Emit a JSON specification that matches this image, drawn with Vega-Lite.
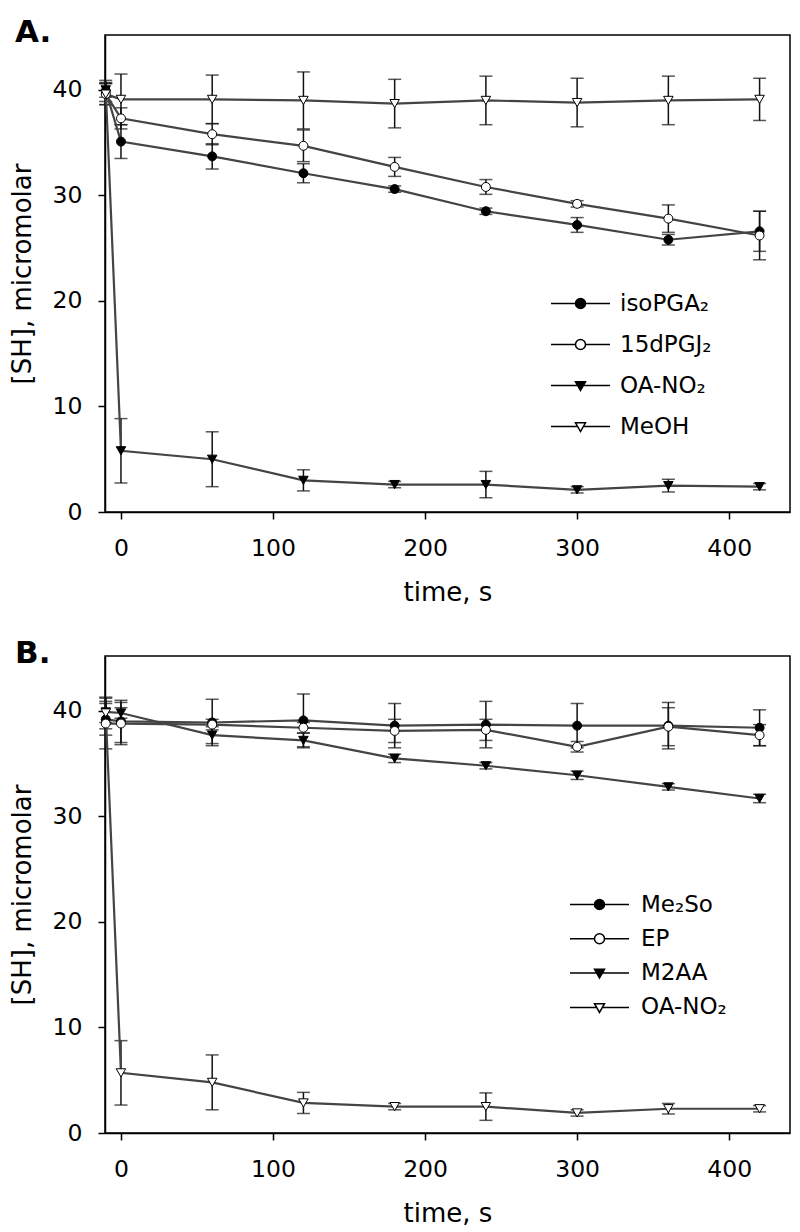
{
  "$schema": "https://vega.github.io/schema/vega-lite/v6.json",
  "padding": {"left": 8, "top": 16, "right": 5, "bottom": 2},
  "spacing": 30,
  "datasets": {
    "a": [
      {"s": "isoPGA₂", "t": -10, "y": 39.9, "lo": 38.9, "hi": 40.9},
      {"s": "isoPGA₂", "t": 0, "y": 35.1, "lo": 33.5, "hi": 36.7},
      {"s": "isoPGA₂", "t": 60, "y": 33.7, "lo": 32.5, "hi": 34.9},
      {"s": "isoPGA₂", "t": 120, "y": 32.1, "lo": 31.2, "hi": 33.0},
      {"s": "isoPGA₂", "t": 180, "y": 30.6, "lo": 30.3, "hi": 30.9},
      {"s": "isoPGA₂", "t": 240, "y": 28.5, "lo": 28.2, "hi": 28.8},
      {"s": "isoPGA₂", "t": 300, "y": 27.2, "lo": 26.5, "hi": 27.9},
      {"s": "isoPGA₂", "t": 360, "y": 25.8, "lo": 25.3, "hi": 26.3},
      {"s": "isoPGA₂", "t": 420, "y": 26.6, "lo": 24.7, "hi": 28.5},
      {"s": "15dPGJ₂", "t": -10, "y": 39.6, "lo": 38.6, "hi": 40.6},
      {"s": "15dPGJ₂", "t": 0, "y": 37.3, "lo": 36.3, "hi": 38.3},
      {"s": "15dPGJ₂", "t": 60, "y": 35.8, "lo": 34.8, "hi": 36.8},
      {"s": "15dPGJ₂", "t": 120, "y": 34.7, "lo": 33.2, "hi": 36.2},
      {"s": "15dPGJ₂", "t": 180, "y": 32.7, "lo": 31.8, "hi": 33.6},
      {"s": "15dPGJ₂", "t": 240, "y": 30.8, "lo": 30.1, "hi": 31.5},
      {"s": "15dPGJ₂", "t": 300, "y": 29.2, "lo": 28.9, "hi": 29.5},
      {"s": "15dPGJ₂", "t": 360, "y": 27.8, "lo": 26.5, "hi": 29.1},
      {"s": "15dPGJ₂", "t": 420, "y": 26.2, "lo": 23.9, "hi": 28.5},
      {"s": "OA-NO₂", "t": -10, "y": 40.0, "lo": 39.3, "hi": 40.7},
      {"s": "OA-NO₂", "t": 0, "y": 5.8, "lo": 2.75, "hi": 8.85},
      {"s": "OA-NO₂", "t": 60, "y": 5.0, "lo": 2.4, "hi": 7.6},
      {"s": "OA-NO₂", "t": 120, "y": 3.0, "lo": 2.0, "hi": 4.0},
      {"s": "OA-NO₂", "t": 180, "y": 2.6, "lo": 2.3, "hi": 2.9},
      {"s": "OA-NO₂", "t": 240, "y": 2.6, "lo": 1.35, "hi": 3.85},
      {"s": "OA-NO₂", "t": 300, "y": 2.1, "lo": 1.8, "hi": 2.4},
      {"s": "OA-NO₂", "t": 360, "y": 2.5, "lo": 1.9, "hi": 3.1},
      {"s": "OA-NO₂", "t": 420, "y": 2.4, "lo": 2.1, "hi": 2.7},
      {"s": "MeOH", "t": -10, "y": 39.6, "lo": 38.6, "hi": 40.6},
      {"s": "MeOH", "t": 0, "y": 39.1, "lo": 36.7, "hi": 41.5},
      {"s": "MeOH", "t": 60, "y": 39.1, "lo": 36.8, "hi": 41.4},
      {"s": "MeOH", "t": 120, "y": 39.0, "lo": 36.3, "hi": 41.7},
      {"s": "MeOH", "t": 180, "y": 38.7, "lo": 36.4, "hi": 41.0},
      {"s": "MeOH", "t": 240, "y": 39.0, "lo": 36.7, "hi": 41.3},
      {"s": "MeOH", "t": 300, "y": 38.8, "lo": 36.5, "hi": 41.1},
      {"s": "MeOH", "t": 360, "y": 39.0, "lo": 36.7, "hi": 41.3},
      {"s": "MeOH", "t": 420, "y": 39.1, "lo": 37.1, "hi": 41.1}
    ],
    "b": [
      {"s": "Me₂So", "t": -10, "y": 39.2, "lo": 37.7, "hi": 40.7},
      {"s": "Me₂So", "t": 0, "y": 39.0, "lo": 37.0, "hi": 41.0},
      {"s": "Me₂So", "t": 60, "y": 38.9, "lo": 36.7, "hi": 41.1},
      {"s": "Me₂So", "t": 120, "y": 39.1, "lo": 36.6, "hi": 41.6},
      {"s": "Me₂So", "t": 180, "y": 38.6, "lo": 36.5, "hi": 40.7},
      {"s": "Me₂So", "t": 240, "y": 38.7, "lo": 36.5, "hi": 40.9},
      {"s": "Me₂So", "t": 300, "y": 38.6, "lo": 36.5, "hi": 40.7},
      {"s": "Me₂So", "t": 360, "y": 38.6, "lo": 36.4, "hi": 40.8},
      {"s": "Me₂So", "t": 420, "y": 38.4, "lo": 36.7, "hi": 40.1},
      {"s": "EP", "t": -10, "y": 38.8, "lo": 36.4, "hi": 41.2},
      {"s": "EP", "t": 0, "y": 38.8, "lo": 36.8, "hi": 40.8},
      {"s": "EP", "t": 60, "y": 38.7, "lo": 38.2, "hi": 39.2},
      {"s": "EP", "t": 120, "y": 38.4, "lo": 37.9, "hi": 38.9},
      {"s": "EP", "t": 180, "y": 38.1, "lo": 37.0, "hi": 39.2},
      {"s": "EP", "t": 240, "y": 38.2, "lo": 37.2, "hi": 39.2},
      {"s": "EP", "t": 300, "y": 36.6, "lo": 36.1, "hi": 37.1},
      {"s": "EP", "t": 360, "y": 38.5, "lo": 36.7, "hi": 40.3},
      {"s": "EP", "t": 420, "y": 37.7, "lo": 36.7, "hi": 38.7},
      {"s": "M2AA", "t": -10, "y": 39.9, "lo": 38.9, "hi": 40.9},
      {"s": "M2AA", "t": 0, "y": 39.8, "lo": 39.3, "hi": 40.3},
      {"s": "M2AA", "t": 60, "y": 37.7, "lo": 36.9, "hi": 38.5},
      {"s": "M2AA", "t": 120, "y": 37.2, "lo": 36.5, "hi": 37.9},
      {"s": "M2AA", "t": 180, "y": 35.5, "lo": 35.1, "hi": 35.9},
      {"s": "M2AA", "t": 240, "y": 34.8, "lo": 34.5, "hi": 35.1},
      {"s": "M2AA", "t": 300, "y": 33.9, "lo": 33.5, "hi": 34.3},
      {"s": "M2AA", "t": 360, "y": 32.8, "lo": 32.5, "hi": 33.1},
      {"s": "M2AA", "t": 420, "y": 31.7, "lo": 31.3, "hi": 32.1},
      {"s": "OA-NO₂", "t": -10, "y": 39.8, "lo": 38.3, "hi": 41.3},
      {"s": "OA-NO₂", "t": 0, "y": 5.7, "lo": 2.65, "hi": 8.75},
      {"s": "OA-NO₂", "t": 60, "y": 4.8, "lo": 2.2, "hi": 7.4},
      {"s": "OA-NO₂", "t": 120, "y": 2.85, "lo": 1.85, "hi": 3.85},
      {"s": "OA-NO₂", "t": 180, "y": 2.5, "lo": 2.2, "hi": 2.8},
      {"s": "OA-NO₂", "t": 240, "y": 2.5, "lo": 1.2, "hi": 3.8},
      {"s": "OA-NO₂", "t": 300, "y": 1.9, "lo": 1.6, "hi": 2.2},
      {"s": "OA-NO₂", "t": 360, "y": 2.3, "lo": 1.8, "hi": 2.8},
      {"s": "OA-NO₂", "t": 420, "y": 2.3, "lo": 2.0, "hi": 2.6}
    ]
  },
  "resolve": {"scale": {"x": "independent", "y": "independent", "shape": "independent", "fill": "independent"}},
  "vconcat": [
    {
      "width": 685,
      "height": 477,
      "title": {"text": "A.", "anchor": "start", "frame": "group", "dx": -90, "offset": -38, "baseline": "alphabetic", "fontSize": 31, "fontWeight": "bold", "font": "DejaVu Sans", "color": "black"},
      "data": {"name": "a"},
      "encoding": {
        "x": {"field": "t", "type": "quantitative", "scale": {"domain": [-10.5, 440], "nice": false, "zero": false}, "axis": {"values": [0, 100, 200, 300, 400], "title": "time, s"}}
      },
      "layer": [
        {
          "mark": {"type": "errorbar", "color": "#111", "thickness": 1.5, "ticks": {"size": 13, "thickness": 1.5}},
          "encoding": {
            "y": {"field": "lo", "type": "quantitative", "scale": {"domain": [0, 45.2], "nice": false}, "axis": {"values": [0, 10, 20, 30, 40], "title": "[SH], micromolar"}},
            "y2": {"field": "hi"}
          }
        },
        {
          "mark": {"type": "line", "color": "#444", "strokeWidth": 2.2},
          "encoding": {
            "y": {"field": "y", "type": "quantitative", "axis": {"values": [0, 10, 20, 30, 40], "title": "[SH], micromolar"}},
            "detail": {"field": "s"}
          }
        },
        {
          "transform": [{"filter": {"field": "s", "equal": "isoPGA₂"}}],
          "mark": {"type": "point", "shape": "circle", "size": 80, "fill": "black", "stroke": "black", "strokeWidth": 1, "opacity": 1},
          "encoding": {"y": {"field": "y", "type": "quantitative", "axis": {"values": [0, 10, 20, 30, 40], "title": "[SH], micromolar"}}}
        },
        {
          "transform": [{"filter": {"field": "s", "equal": "15dPGJ₂"}}],
          "mark": {"type": "point", "shape": "circle", "size": 80, "fill": "white", "stroke": "black", "strokeWidth": 1, "opacity": 1},
          "encoding": {"y": {"field": "y", "type": "quantitative", "axis": {"values": [0, 10, 20, 30, 40], "title": "[SH], micromolar"}}}
        },
        {
          "transform": [{"filter": {"field": "s", "equal": "OA-NO₂"}}],
          "mark": {"type": "point", "shape": "triangle-down", "size": 90, "fill": "black", "stroke": "black", "strokeWidth": 1, "opacity": 1},
          "encoding": {"y": {"field": "y", "type": "quantitative", "axis": {"values": [0, 10, 20, 30, 40], "title": "[SH], micromolar"}}}
        },
        {
          "transform": [{"filter": {"field": "s", "equal": "MeOH"}}],
          "mark": {"type": "point", "shape": "triangle-down", "size": 90, "fill": "white", "stroke": "black", "strokeWidth": 1, "opacity": 1},
          "encoding": {"y": {"field": "y", "type": "quantitative", "axis": {"values": [0, 10, 20, 30, 40], "title": "[SH], micromolar"}}}
        },
        {
          "transform": [{"filter": "datum.t < -100"}],
          "mark": {"type": "point", "size": 100, "stroke": "black", "strokeWidth": 1.5, "opacity": 1},
          "encoding": {
            "y": {"field": "y", "type": "quantitative", "axis": {"values": [0, 10, 20, 30, 40], "title": "[SH], micromolar"}},
            "shape": {"field": "s", "scale": {"domain": ["isoPGA₂", "15dPGJ₂", "OA-NO₂", "MeOH"], "range": ["M-5.9,0H-1M1,0H5.9M1,0A1,1,0,1,1,-1,0A1,1,0,1,1,1,0Z", "M-5.9,0H-1M1,0H5.9M1,0A1,1,0,1,1,-1,0A1,1,0,1,1,1,0Z", "M-5.9,0H-0.57M0.57,0H5.9M-1,-0.75L1,-0.75L0,1Z", "M-5.9,0H-0.57M0.57,0H5.9M-1,-0.75L1,-0.75L0,1Z"]},
              "legend": {"title": null, "orient": "none", "legendX": 464, "legendY": 257, "padding": 0, "rowPadding": 17, "labelOffset": 28, "symbolSize": 100, "symbolStrokeWidth": 1.5, "symbolStrokeColor": "black", "symbolOpacity": 1, "labelFontSize": 23, "labelFont": "DejaVu Sans", "labelColor": "black",
                "encode": {"symbols": {"update": {"stroke": {"value": "black"}, "strokeWidth": {"value": 1.5}, "opacity": {"value": 1}}}}}},
            "fill": {"field": "s", "scale": {"domain": ["isoPGA₂", "15dPGJ₂", "OA-NO₂", "MeOH"], "range": ["black", "white", "black", "white"]},
              "legend": {"title": null, "orient": "none", "legendX": 464, "legendY": 257, "padding": 0, "rowPadding": 17, "labelOffset": 28, "symbolSize": 100, "symbolStrokeWidth": 1.5, "symbolStrokeColor": "black", "symbolOpacity": 1, "labelFontSize": 23, "labelFont": "DejaVu Sans", "labelColor": "black",
                "encode": {"symbols": {"update": {"stroke": {"value": "black"}, "strokeWidth": {"value": 1.5}, "opacity": {"value": 1}}}}}}
          }
        }
      ]
    },
    {
      "width": 685,
      "height": 477,
      "title": {"text": "B.", "anchor": "start", "frame": "group", "dx": -90, "offset": -38, "baseline": "alphabetic", "fontSize": 31, "fontWeight": "bold", "font": "DejaVu Sans", "color": "black"},
      "data": {"name": "b"},
      "encoding": {
        "x": {"field": "t", "type": "quantitative", "scale": {"domain": [-10.5, 440], "nice": false, "zero": false}, "axis": {"values": [0, 100, 200, 300, 400], "title": "time, s"}}
      },
      "layer": [
        {
          "mark": {"type": "errorbar", "color": "#111", "thickness": 1.5, "ticks": {"size": 13, "thickness": 1.5}},
          "encoding": {
            "y": {"field": "lo", "type": "quantitative", "scale": {"domain": [0, 45.2], "nice": false}, "axis": {"values": [0, 10, 20, 30, 40], "title": "[SH], micromolar"}},
            "y2": {"field": "hi"}
          }
        },
        {
          "mark": {"type": "line", "color": "#444", "strokeWidth": 2.2},
          "encoding": {
            "y": {"field": "y", "type": "quantitative", "axis": {"values": [0, 10, 20, 30, 40], "title": "[SH], micromolar"}},
            "detail": {"field": "s"}
          }
        },
        {
          "transform": [{"filter": {"field": "s", "equal": "Me₂So"}}],
          "mark": {"type": "point", "shape": "circle", "size": 80, "fill": "black", "stroke": "black", "strokeWidth": 1, "opacity": 1},
          "encoding": {"y": {"field": "y", "type": "quantitative", "axis": {"values": [0, 10, 20, 30, 40], "title": "[SH], micromolar"}}}
        },
        {
          "transform": [{"filter": {"field": "s", "equal": "EP"}}],
          "mark": {"type": "point", "shape": "circle", "size": 80, "fill": "white", "stroke": "black", "strokeWidth": 1, "opacity": 1},
          "encoding": {"y": {"field": "y", "type": "quantitative", "axis": {"values": [0, 10, 20, 30, 40], "title": "[SH], micromolar"}}}
        },
        {
          "transform": [{"filter": {"field": "s", "equal": "M2AA"}}],
          "mark": {"type": "point", "shape": "triangle-down", "size": 90, "fill": "black", "stroke": "black", "strokeWidth": 1, "opacity": 1},
          "encoding": {"y": {"field": "y", "type": "quantitative", "axis": {"values": [0, 10, 20, 30, 40], "title": "[SH], micromolar"}}}
        },
        {
          "transform": [{"filter": {"field": "s", "equal": "OA-NO₂"}}],
          "mark": {"type": "point", "shape": "triangle-down", "size": 90, "fill": "white", "stroke": "black", "strokeWidth": 1, "opacity": 1},
          "encoding": {"y": {"field": "y", "type": "quantitative", "axis": {"values": [0, 10, 20, 30, 40], "title": "[SH], micromolar"}}}
        },
        {
          "transform": [{"filter": "datum.t < -100"}],
          "mark": {"type": "point", "size": 100, "stroke": "black", "strokeWidth": 1.5, "opacity": 1},
          "encoding": {
            "y": {"field": "y", "type": "quantitative", "axis": {"values": [0, 10, 20, 30, 40], "title": "[SH], micromolar"}},
            "shape": {"field": "s", "scale": {"domain": ["Me₂So", "EP", "M2AA", "OA-NO₂"], "range": ["M-5.9,0H-1M1,0H5.9M1,0A1,1,0,1,1,-1,0A1,1,0,1,1,1,0Z", "M-5.9,0H-1M1,0H5.9M1,0A1,1,0,1,1,-1,0A1,1,0,1,1,1,0Z", "M-5.9,0H-0.57M0.57,0H5.9M-1,-0.75L1,-0.75L0,1Z", "M-5.9,0H-0.57M0.57,0H5.9M-1,-0.75L1,-0.75L0,1Z"]},
              "legend": {"title": null, "orient": "none", "legendX": 483, "legendY": 237, "padding": 0, "rowPadding": 10.3, "labelOffset": 30, "symbolSize": 100, "symbolStrokeWidth": 1.5, "symbolStrokeColor": "black", "symbolOpacity": 1, "labelFontSize": 23, "labelFont": "DejaVu Sans", "labelColor": "black",
                "encode": {"symbols": {"update": {"stroke": {"value": "black"}, "strokeWidth": {"value": 1.5}, "opacity": {"value": 1}}}}}},
            "fill": {"field": "s", "scale": {"domain": ["Me₂So", "EP", "M2AA", "OA-NO₂"], "range": ["black", "white", "black", "white"]},
              "legend": {"title": null, "orient": "none", "legendX": 483, "legendY": 237, "padding": 0, "rowPadding": 10.3, "labelOffset": 30, "symbolSize": 100, "symbolStrokeWidth": 1.5, "symbolStrokeColor": "black", "symbolOpacity": 1, "labelFontSize": 23, "labelFont": "DejaVu Sans", "labelColor": "black",
                "encode": {"symbols": {"update": {"stroke": {"value": "black"}, "strokeWidth": {"value": 1.5}, "opacity": {"value": 1}}}}}}
          }
        }
      ]
    }
  ],
  "config": {
    "font": "DejaVu Sans",
    "view": {"stroke": "black", "strokeWidth": 1.5},
    "axis": {"grid": false, "labelFont": "DejaVu Sans", "titleFont": "DejaVu Sans", "labelFontSize": 23.5, "titleFontSize": 26, "titleFontWeight": "normal", "labelColor": "black", "titleColor": "black", "domainColor": "black", "tickColor": "black", "domainWidth": 1.5, "tickWidth": 1.5, "tickSize": 7},
    "axisX": {"labelPadding": 17, "titlePadding": 20},
    "axisY": {"labelPadding": 16, "titlePadding": 17}
  }
}
